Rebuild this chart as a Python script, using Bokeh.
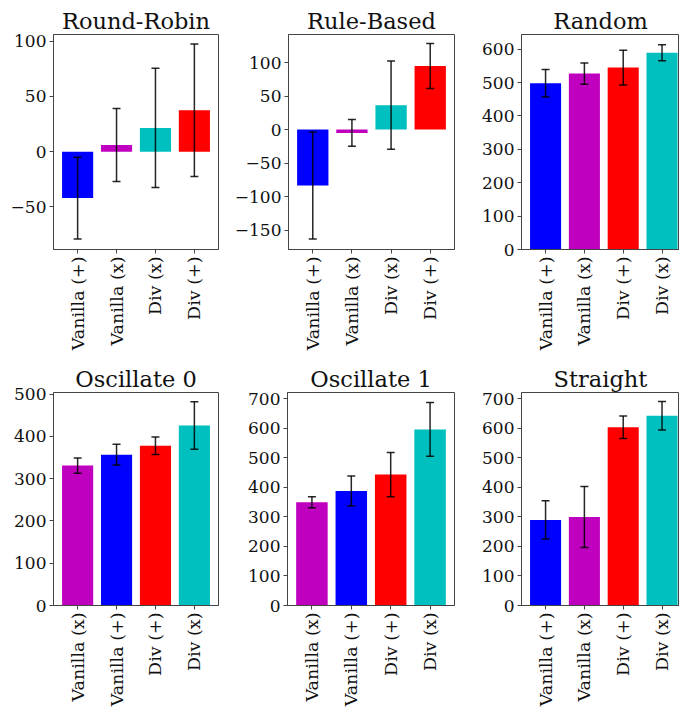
import math
from bokeh.plotting import figure
from bokeh.layouts import row, column
from bokeh.models import Range1d, FixedTicker, Whisker, ColumnDataSource, TeeHead
from bokeh.embed import file_html
from bokeh.resources import INLINE

FONT = "DejaVu Serif"
BLUE, MAG, RED, CYAN = "#0000ff", "#bf00bf", "#ff0000", "#00bfbf"

# ---- data ----
rr_labels = ["Vanilla (+)", "Vanilla (x)", "Div (x)", "Div (+)"]
rr_means = [-42, 6, 21.5, 37.5]
rr_errs = [37, 33, 54, 60]
rr_colors = [BLUE, MAG, CYAN, RED]
rr_ticks = [-50, 0, 50, 100]

rb_labels = ["Vanilla (+)", "Vanilla (x)", "Div (x)", "Div (+)"]
rb_means = [-83.5, -5, 36.5, 95]
rb_errs = [80, 20, 66, 33.5]
rb_colors = [BLUE, MAG, CYAN, RED]
rb_ticks = [-150, -100, -50, 0, 50, 100]

rnd_labels = ["Vanilla (+)", "Vanilla (x)", "Div (+)", "Div (x)"]
rnd_means = [498, 527, 545, 589]
rnd_errs = [41, 32, 52, 24]
rnd_colors = [BLUE, MAG, RED, CYAN]
rnd_ticks = [0, 100, 200, 300, 400, 500, 600]

osc0_labels = ["Vanilla (x)", "Vanilla (+)", "Div (+)", "Div (x)"]
osc0_means = [331, 357, 378, 426]
osc0_errs = [18, 24.5, 20.5, 56]
osc0_colors = [MAG, BLUE, RED, CYAN]
osc0_ticks = [0, 100, 200, 300, 400, 500]

osc1_labels = ["Vanilla (x)", "Vanilla (+)", "Div (+)", "Div (x)"]
osc1_means = [350, 388, 444, 597]
osc1_errs = [19, 51, 75, 91]
osc1_colors = [MAG, BLUE, RED, CYAN]
osc1_ticks = [0, 100, 200, 300, 400, 500, 600, 700]

str_labels = ["Vanilla (+)", "Vanilla (x)", "Div (+)", "Div (x)"]
str_means = [290, 300, 604, 643]
str_errs = [65, 103.5, 38, 48.5]
str_colors = [BLUE, MAG, RED, CYAN]
str_ticks = [0, 100, 200, 300, 400, 500, 600, 700]


def panel(title, labels, means, errs, colors, yr, yticks, width, bl, br,
          height, bt, bb, xr):
    p = figure(width=width, height=height, output_backend="svg",
               toolbar_location=None, x_range=Range1d(*xr), y_range=Range1d(*yr),
               min_border_left=bl, min_border_right=br, min_border_top=bt,
               min_border_bottom=bb)
    p.title.text = title
    p.title.align = "center"
    p.title.text_font = FONT
    p.title.text_font_size = "22.5px"
    p.title.text_font_style = "normal"
    p.title.text_color = "#111111"
    p.title.standoff = 1
    p.title.offset = 0

    xs = list(range(len(labels)))
    src = ColumnDataSource(dict(x=xs, top=means, color=colors,
                                upper=[m + e for m, e in zip(means, errs)],
                                lower=[m - e for m, e in zip(means, errs)]))
    p.vbar(x="x", top="top", bottom=0, width=0.8, fill_color="color",
           line_color=None, source=src)
    w = Whisker(base="x", upper="upper", lower="lower", source=src,
                line_color="black", line_width=1.5, line_alpha=0.85, level="overlay",
                upper_head=TeeHead(size=8, line_color="black", line_width=1.5, line_alpha=0.85),
                lower_head=TeeHead(size=8, line_color="black", line_width=1.5, line_alpha=0.85))
    p.add_layout(w)

    p.grid.visible = False
    p.outline_line_color = "#444444"
    p.outline_line_width = 1
    p.outline_line_alpha = 1

    p.xaxis.ticker = FixedTicker(ticks=xs)
    p.xaxis.major_label_overrides = {i: l for i, l in zip(xs, labels)}
    p.xaxis.major_label_orientation = math.pi / 2
    p.xaxis.major_label_text_font_size = "17.5px"

    p.yaxis.ticker = FixedTicker(ticks=yticks)
    p.yaxis.major_label_overrides = {t: ("\u2212" + str(abs(t)) if t < 0 else str(t))
                                     for t in yticks}
    p.yaxis.major_label_text_font_size = "17px"

    for ax in (p.xaxis, p.yaxis):
        ax.major_label_text_font = FONT
        ax.major_label_text_color = "#111111"
        ax.axis_line_color = "#444444"
        ax.major_tick_line_color = "#444444"
        ax.major_tick_out = 4
        ax.major_tick_in = 0
        ax.minor_tick_line_color = None
        ax.major_label_standoff = 3
    return p


H1, H2 = 362, 347
X12 = (-0.62, 3.62)
X3 = (-0.62, 3.45)

f1 = panel("Round-Robin", rr_labels, rr_means, rr_errs, rr_colors, (-88.5, 106), rr_ticks,
           231, 53, 13, H1, 34, 113, X12)
f2 = panel("Rule-Based", rb_labels, rb_means, rb_errs, rb_colors, (-179, 142), rb_ticks,
           245, 56, 22, H1, 34, 113, X12)
f3 = panel("Random", rnd_labels, rnd_means, rnd_errs, rnd_colors, (0, 644), rnd_ticks,
           203, 45, 0, H1, 34, 113, X3)
f4 = panel("Oscillate 0", osc0_labels, osc0_means, osc0_errs, osc0_colors, (0, 504), osc0_ticks,
           231, 53, 13, H2, 30, 101, X12)
f5 = panel("Oscillate 1", osc1_labels, osc1_means, osc1_errs, osc1_colors, (0, 722), osc1_ticks,
           245, 56, 22, H2, 30, 101, X12)
f6 = panel("Straight", str_labels, str_means, str_errs, str_colors, (0, 722), str_ticks,
           203, 45, 0, H2, 30, 101, X3)

layout = column(row(f1, f2, f3), row(f4, f5, f6))

open("out.html", "w").write(file_html(layout, INLINE))
